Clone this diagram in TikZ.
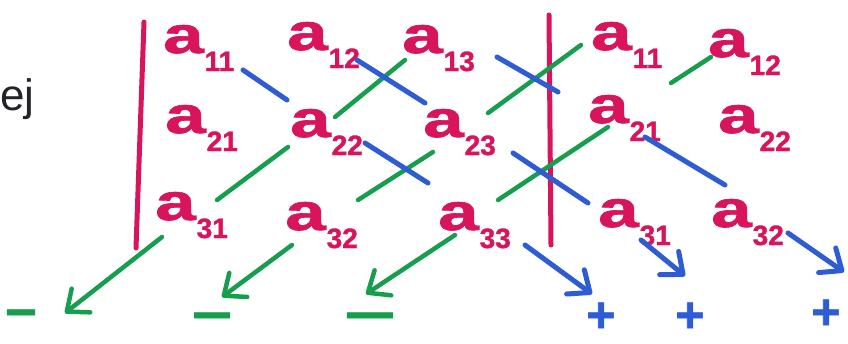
\documentclass[tikz,border=0pt]{standalone}
\usepackage{fontspec}
\setmainfont{Liberation Sans}
\newfontfamily\markfont[FakeBold=1.2]{Liberation Sans Bold}
\usetikzlibrary{arrows.meta,calc}
\definecolor{mred}{RGB}{216,20,92}
\definecolor{mblue}{RGB}{45,92,212}
\definecolor{mgreen}{RGB}{22,158,78}
\definecolor{mink}{RGB}{35,35,40}
\newcommand\ael[1]{\scalebox{1.4}[1]{\fontsize{52}{52}\selectfont a}\kern1pt\raisebox{-18pt}{\fontsize{28}{28}\selectfont #1}}
\begin{document}
\begin{tikzpicture}[x=1pt,y=-1pt,
  el/.style={inner sep=0pt,anchor=base west,text=mred,font=\markfont},
  bar/.style={mred,line width=5pt,line cap=round},
  bl/.style={mblue,line width=5pt,line cap=round},
  gr/.style={mgreen,line width=4.5pt,line cap=round},
  arr/.style={-{Straight Barb[length=18pt,width=30pt,round]}},
  sg/.style={inner sep=0pt,anchor=base,font=\markfont\fontsize{50}{50}\selectfont}]
\fill[white] (0,0) rectangle (848,343);
\useasboundingbox (0,0) rectangle (848,343);
% text on the left
\node[inner sep=0pt,anchor=base west,text=mink,font=\fontsize{44}{44}\selectfont] (ej) at (0,110) {ej};
% bars
\draw[bar] (144,22) -- (136,248);
\draw[bar] (549,15) -- (551,245);
% elements
\node[el] (m11) at (163,53) {\ael{11}};
\node[el] (m12) at (287,50) {\ael{12}};
\node[el] (m13) at (402,53) {\ael{13}};
\node[el] (m21) at (165,133) {\ael{21}};
\node[el] (m22) at (290,137) {\ael{22}};
\node[el] (m23) at (423,137) {\ael{23}};
\node[el] (m31) at (155,220) {\ael{31}};
\node[el] (m32) at (285,230) {\ael{32}};
\node[el] (m33) at (438,230) {\ael{33}};
\node[el] (r11) at (591,50) {\ael{11}};
\node[el] (r12) at (708,57) {\ael{12}};
\node[el] (r21) at (588,123) {\ael{21}};
\node[el] (r22) at (718,133) {\ael{22}};
\node[el] (r31) at (598,227) {\ael{31}};
\node[el] (r32) at (711,227) {\ael{32}};
% arrow ends
\coordinate (p1) at (592,294);
\coordinate (p2) at (685,276);
\coordinate (p3) at (844,272);
\coordinate (q1) at (65,313);
\coordinate (q2) at (222,297);
\coordinate (q3) at (366,294);
% green anti-diagonals
\draw[gr] ($(m13.base west)+(3,7)$) -- ($(m22.base west)+(45,-20)$);
\draw[gr] ($(m22.base west)+(-2,10)$) -- ($(m31.base west)+(62,-20)$);
\draw[gr,arr] ($(m31.base west)+(7,17)$) -- (q1);
\draw[gr] ($(r11.base west)+(-10,-5)$) -- ($(m23.base west)+(65,-24)$);
\draw[gr] ($(m23.base west)+(10,15)$) -- ($(m32.base west)+(73,-30)$);
\draw[gr,arr] ($(m32.base west)+(7,15)$) -- (q2);
\draw[gr] ($(r12.base west)+(3,0)$) -- ($(r21.base west)+(83,-40)$);
\draw[gr] ($(r21.base west)+(20,4)$) -- ($(m33.base west)+(60,-30)$);
\draw[gr,arr] ($(m33.base west)+(17,5)$) -- (q3);
% blue diagonals
\draw[bl] ($(m11.base west)+(80,17)$) -- ($(m22.base west)+(-3,-37)$);
\draw[bl] ($(m22.base west)+(75,6)$) -- ($(m33.base west)+(-10,-47)$);
\draw[bl,arr] ($(m33.base west)+(87,15)$) -- (p1);
\draw[bl] ($(m12.base west)+(70,10)$) -- ($(m23.base west)+(2,-34)$);
\draw[bl] ($(m23.base west)+(90,16)$) -- ($(r31.base west)+(-10,-24)$);
\draw[bl,arr] ($(r31.base west)+(43,13)$) -- (p2);
\draw[bl] ($(m13.base west)+(95,4)$) -- ($(r21.base west)+(-30,-31)$);
\draw[bl] ($(r21.base west)+(57,14)$) -- ($(r32.base west)+(14,-42)$);
\draw[bl,arr] ($(r32.base west)+(77,6)$) -- (p3);
% signs
\node[sg,text=mgreen] (s1) at (21,329) {\scalebox{1.1}[1]{−}};
\node[sg,text=mgreen] (s2) at (212,332) {\scalebox{1.4}[1]{−}};
\node[sg,text=mgreen] (s3) at (370,332) {\scalebox{1.8}[1]{−}};
\node[sg,text=mblue] (t1) at (601,332) {+};
\node[sg,text=mblue] (t2) at (690,332) {+};
\node[sg,text=mblue] (t3) at (826,329) {+};
\end{tikzpicture}
\end{document}
